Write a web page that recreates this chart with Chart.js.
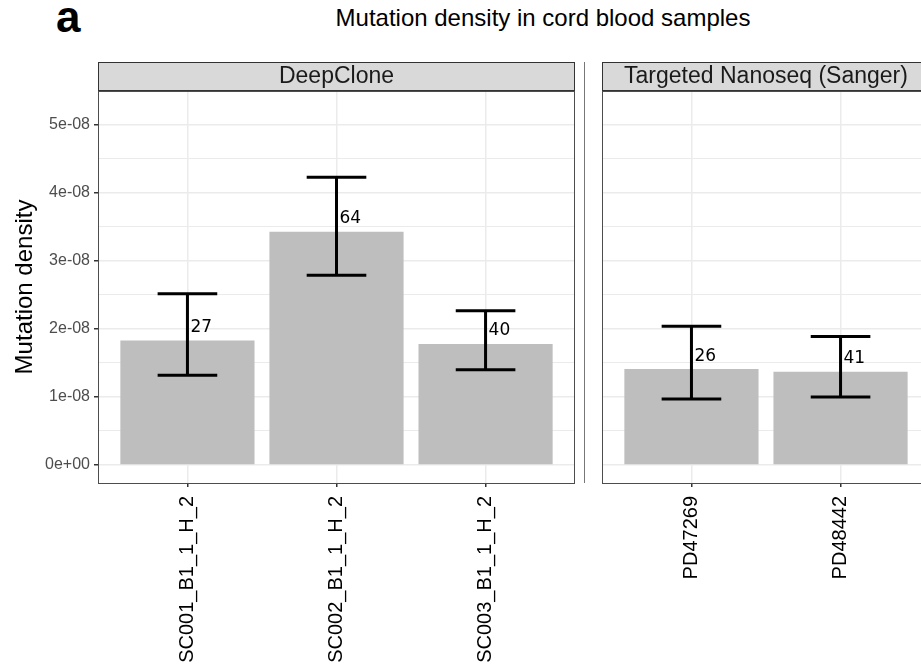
<!DOCTYPE html>
<html>
<head>
<meta charset="utf-8">
<script src="https://cdn.jsdelivr.net/npm/chart.js@4.4.0/dist/chart.umd.min.js"></script>
<style>
  html, body { margin: 0; padding: 0; background: #fff; overflow: hidden; }
  body { width: 921px; height: 664px; position: relative; font-family: "Liberation Sans", Arial, sans-serif; }
  #tag { position: absolute; left: 56px; top: -5px; font-size: 44px; font-weight: bold; line-height: 44px; }
  #title { position: absolute; left: 0; width: 1086px; top: 6px; text-align: center; font-size: 24px; line-height: 24px; }
  .panel { position: absolute; top: 0; height: 664px; }
</style>
</head>
<body>
<div id="tag">a</div>
<div id="title">Mutation density in cord blood samples</div>
<div class="panel" style="left:0;width:590px"><canvas id="panel_deep"></canvas></div>
<div class="panel" style="left:590px;width:360px"><canvas id="panel_nano"></canvas></div>
<script>
// DeepClone panel
const deepLabels = ['SC001_B1_1_H_2', 'SC002_B1_1_H_2', 'SC003_B1_1_H_2'];
const deepDensity = [1.83e-8, 3.43e-8, 1.78e-8];
const deepLower = [1.32e-8, 2.79e-8, 1.40e-8];
const deepUpper = [2.52e-8, 4.23e-8, 2.27e-8];
const deepCounts = [27, 64, 40];

// Targeted Nanoseq panel
const nanoLabels = ['PD47269', 'PD48442'];
const nanoDensity = [1.41e-8, 1.37e-8];
const nanoLower = [0.97e-8, 1.00e-8];
const nanoUpper = [2.04e-8, 1.89e-8];
const nanoCounts = [26, 41];

const yTicks = [0, 1e-8, 2e-8, 3e-8, 4e-8, 5e-8];
const yMin = -0.265e-8;
const yMax = 5.5e-8;

function isMajor(v) {
    return Math.abs(Math.round(v / 1e-8) * 1e-8 - v) < 1e-12;
}
function sciLabel(v) {
    if (Math.abs(v) < 1e-14) return '0e+00';
    return Math.round(v / 1e-8) + 'e-08';
}

// facet decorations: strip, border, error bars, count labels
const facetPlugin = {
    id: 'facet',
    afterDatasetsDraw(chart, args, opts) {
        const c = chart.ctx;
        const a = chart.chartArea;
        const xs = chart.scales.x, ys = chart.scales.y;
        c.save();
        // error bars
        c.strokeStyle = '#000';
        c.lineWidth = 3;
        opts.lower.forEach(function (lo, i) {
            const x = xs.getPixelForValue(i);
            const half = (xs.getPixelForValue(1) - xs.getPixelForValue(0)) * 0.2;
            const y1 = ys.getPixelForValue(lo), y2 = ys.getPixelForValue(opts.upper[i]);
            c.beginPath();
            c.moveTo(x, y1); c.lineTo(x, y2);
            c.moveTo(x - half, y1); c.lineTo(x + half, y1);
            c.moveTo(x - half, y2); c.lineTo(x + half, y2);
            c.stroke();
        });
        // counts
        c.fillStyle = '#000';
        c.font = '17px "DejaVu Sans"';
        c.textAlign = 'left';
        c.textBaseline = 'middle';
        opts.counts.forEach(function (n, i) {
            const x = xs.getPixelForValue(i);
            const y = ys.getPixelForValue(opts.values[i]);
            c.fillText(String(n), x + 3, y - 13);
        });
        // panel border
        c.strokeStyle = '#4d4d4d';
        c.lineWidth = 1;
        c.strokeRect(a.left + 0.5, a.top + 0.5, a.right - a.left - 1, a.bottom - a.top);
        // strip
        c.fillStyle = '#d9d9d9';
        c.fillRect(a.left, a.top - 29, a.right - a.left, 28);
        c.strokeStyle = '#333';
        c.strokeRect(a.left + 0.5, a.top - 28.5, a.right - a.left - 1, 28);
        c.fillStyle = '#1a1a1a';
        c.font = '23px "Liberation Sans", Arial, sans-serif';
        c.textAlign = 'center';
        c.textBaseline = 'middle';
        c.fillText(opts.strip, (a.left + a.right) / 2, a.top - 14);
        // divider between panels
        if (opts.divider) {
            c.strokeStyle = '#777';
            c.beginPath();
            c.moveTo(584.5, a.top - 29);
            c.lineTo(584.5, a.bottom);
            c.stroke();
        }
        c.restore();
    }
};

function makePanel(id, labels, values, lower, upper, counts, strip, withAxis, pad) {
    return new Chart(document.getElementById(id), {
        type: 'bar',
        data: {
            datasets: [{
                data: values.map(function (v, i) { return { x: i, y: v }; }),
                backgroundColor: '#bebebe',
                borderWidth: 0,
                barPercentage: 0.9,
                categoryPercentage: 1.0
            }]
        },
        options: {
            responsive: true,
            maintainAspectRatio: false,
            animation: false,
            layout: { padding: pad },
            plugins: {
                legend: { display: false },
                tooltip: { enabled: false },
                facet: { lower: lower, upper: upper, counts: counts, values: values, strip: strip, divider: withAxis }
            },
            scales: {
                x: {
                    type: 'linear',
                    offset: false,
                    min: -0.6,
                    max: labels.length - 0.4,
                    afterFit: function (s) { s.height = 181; },
                    afterBuildTicks: function (s) {
                        s.ticks = labels.map(function (l, i) { return { value: i }; });
                    },
                    grid: { offset: false, color: '#ebebeb', lineWidth: 1.5, tickLength: 4, tickColor: '#333' },
                    border: { display: false },
                    ticks: {
                        autoSkip: false,
                        minRotation: 90,
                        maxRotation: 90,
                        padding: 9,
                        color: '#000',
                        font: { family: '"Liberation Sans", Arial, sans-serif', size: 20 },
                        callback: function (v) { return labels[v]; }
                    }
                },
                y: {
                    min: yMin,
                    max: yMax,
                    afterFit: function (s) { s.width = withAxis ? 98 : 0; },
                    afterBuildTicks: function (s) {
                        const t = [];
                        yTicks.forEach(function (v) { t.push({ value: v }); t.push({ value: v + 0.5e-8 }); });
                        s.ticks = t;
                    },
                    grid: {
                        color: '#ebebeb',
                        lineWidth: function (ctx) { return ctx.tick && isMajor(ctx.tick.value) ? 1.5 : 1; },
                        drawTicks: withAxis,
                        tickLength: 4,
                        tickColor: function (ctx) { return ctx.tick && isMajor(ctx.tick.value) ? '#333' : 'rgba(0,0,0,0)'; }
                    },
                    border: { display: false },
                    ticks: {
                        display: withAxis,
                        padding: 4,
                        color: '#4d4d4d',
                        font: { family: '"Liberation Sans", Arial, sans-serif', size: 16 },
                        callback: function (v) { return isMajor(v) ? sciLabel(v) : ''; }
                    },
                    title: {
                        display: withAxis,
                        text: 'Mutation density',
                        color: '#000',
                        padding: { top: 11, bottom: 0 },
                        font: { family: '"Liberation Sans", Arial, sans-serif', size: 24 }
                    }
                }
            }
        },
        plugins: [facetPlugin]
    });
}

makePanel('panel_deep', deepLabels, deepDensity, deepLower, deepUpper, deepCounts, 'DeepClone', true,
    { left: 0, top: 91, right: 15, bottom: 0 });
makePanel('panel_nano', nanoLabels, nanoDensity, nanoLower, nanoUpper, nanoCounts, 'Targeted Nanoseq (Sanger)', false,
    { left: 12, top: 91, right: 20, bottom: 0 });
</script>
</body>
</html>
